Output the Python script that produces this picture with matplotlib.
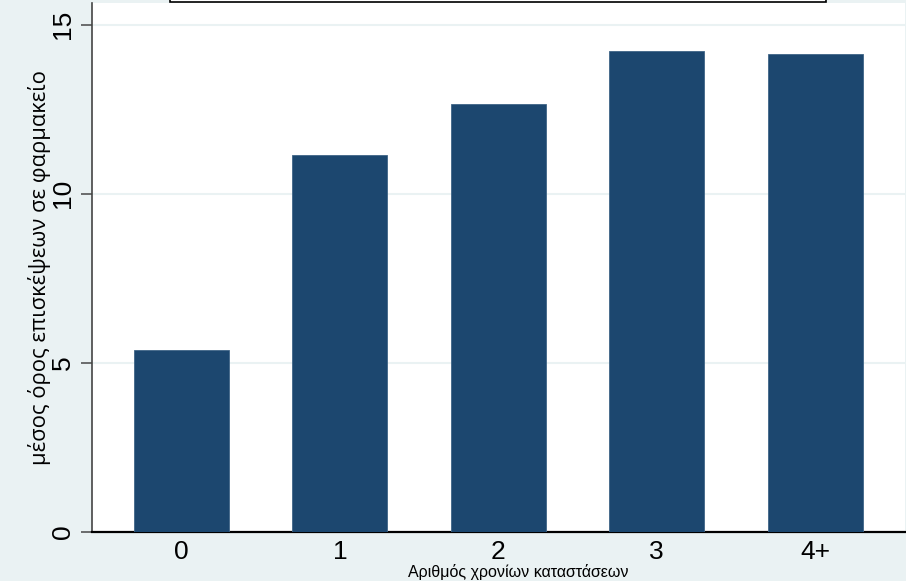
import matplotlib.pyplot as plt
import matplotlib.patches as patches
import numpy as np

categories = ['0', '1', '2', '3', '4+']
values = [5.37, 11.14, 12.65, 14.22, 14.13]
y_ticks = [0, 5, 10, 15]

bg = '#EAF2F3'
bar_color = '#1C476F'

fig = plt.figure(figsize=(9.06, 5.81), dpi=100)
fig.patch.set_facecolor(bg)
ax = fig.add_axes([92/906, 49/581, 813/906, 529/581])
ax.set_facecolor('white')

x = np.arange(len(categories))
ax.bar(x, values, width=0.6, color=bar_color, edgecolor='#3F6587', linewidth=0.6, zorder=3)

ax.set_xlim(-0.565, 4.568)
ax.set_ylim(0, 15.64)
ax.set_yticks(y_ticks)
ax.set_yticklabels([str(t) for t in y_ticks], rotation=90, va='center', fontsize=19,
                   family='Liberation Sans')
ax.set_xticks(x)
ax.set_xticklabels(categories, fontsize=19, family='Liberation Sans')
ax.tick_params(axis='x', length=0, pad=6)
ax.tick_params(axis='y', length=8, width=1.2, color='#555555', pad=4)
ax.yaxis.grid(True, color='#EAF2F3', linewidth=1.5, zorder=0)

for s in ['top', 'right']:
    ax.spines[s].set_visible(False)
ax.spines['left'].set_color('#444444')
ax.spines['left'].set_linewidth(1.2)
ax.spines['bottom'].set_color('black')
ax.spines['bottom'].set_linewidth(1.6)

ax.set_ylabel('μέσος όρος επισκέψεων σε φαρμακείο', fontsize=15.8, family='Open Sans', labelpad=0)
fig.text(518/906, 1 - 572/581, 'Αριθμός χρονίων καταστάσεων', ha='center', va='center',
         fontsize=11.5, family='Liberation Sans')

# truncated title box at the top
fig.patches.append(patches.Rectangle((170/906, 1 - 1.5/581), 656/906, 20/581,
                                     transform=fig.transFigure, facecolor='white',
                                     edgecolor='black', linewidth=1.2))

fig.savefig('out.png', dpi=100, facecolor=bg)
